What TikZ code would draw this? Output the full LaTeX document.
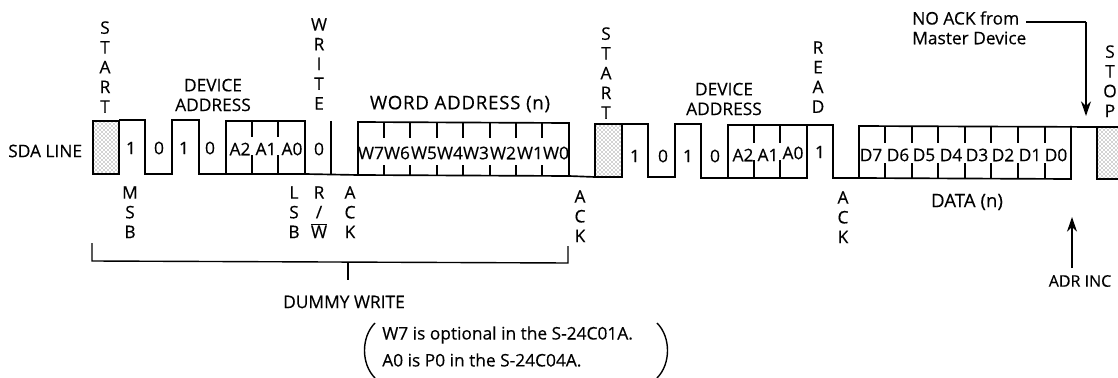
\documentclass[tikz,border=0pt]{standalone}
\usepackage{fontspec}
\setmainfont{Open Sans}[FakeBold=0.35]
\usetikzlibrary{arrows.meta,patterns}
\tikzset{
  lbl/.style={inner sep=0pt,font=\fontsize{13}{14.8}\selectfont,text=black},
  vlabel/.style={lbl,align=center,anchor=north},
  bit/.style={lbl},
  wave/.style={line width=1.25pt,black,line join=miter},
  tick/.style={line width=1.1pt,black},
  shade/.style={pattern=crosshatch dots,pattern color=black!75,draw=black,line width=1.25pt},
  arrowln/.style={line width=1.1pt,black,-{Stealth[length=11pt,width=7.5pt]}},
  brack/.style={line width=1.05pt,black}
}
\begin{document}
\begin{tikzpicture}[x=0.75pt,y=-0.75pt]
\useasboundingbox (0,0) rectangle (1118,378);
% waveform
\draw[shade] (93,121) rectangle (119,174);
\draw[wave] (119,120) -- (145,120) -- (145,174) -- (172,174) -- (172,120) -- (199,120) -- (199,174) -- (226,174)
  -- (226,121) -- (305,121) -- (305,174) -- (358,175) -- (358,122) -- (569,123) -- (569,176) -- (358,175);
\draw[wave] (226,174) -- (305,174);
\draw[tick] (331,121) -- (331,174);
\foreach \x in {252,278} {
  \draw[tick] (\x,121) -- (\x,137);
  \draw[tick] (\x,155) -- (\x,174);
}
\foreach \x in {384,410,437,463,490,516,542} {
  \draw[tick] (\x,123) -- (\x,138);
  \draw[tick] (\x,165) -- (\x,175);
}
\draw[wave] (569,176) -- (595,177);
\draw[shade] (595,124) rectangle (622,177);
\draw[wave] (622,124) -- (648,124) -- (648,177) -- (675,177) -- (675,124) -- (701,124) -- (701,178) -- (728,178)
  -- (728,125) -- (833,125) -- (833,178) -- (859,178) -- (859,126) -- (1097,127);
\draw[wave] (728,178) -- (807,178) -- (807,125);
\draw[wave] (859,178) -- (1071,179) -- (1071,126);
\foreach \x in {754,780} {
  \draw[tick] (\x,125) -- (\x,143);
  \draw[tick] (\x,160) -- (\x,178);
}
\foreach \x in {885,912,938,965,991,1018,1045} {
  \draw[tick] (\x,126) -- (\x,143);
  \draw[tick] (\x,163) -- (\x,178);
}
\fill[pattern=crosshatch dots,pattern color=black!75] (1097,127) rectangle (1118,179);
\draw[wave] (1118,127) -- (1097,127) -- (1097,179) -- (1118,179);
% bit labels
\node[bit] (b1) at (131,148) {1};
\node[bit] (b2) at (159,148) {0};
\node[bit] (b3) at (184,148) {1};
\node[bit] (b4) at (210,148) {0};
\node[bit] (a2) at (240,149) {A2};
\node[bit] (a1) at (266,149) {A1};
\node[bit] (a0) at (292,149) {A0};
\node[bit] (rw) at (319,149) {0};
\foreach \t/\x in {W7/371,W6/397,W5/424,W4/450,W3/476,W2/503,W1/530,W0/556}
  \node[bit] (\t) at (\x,153) {\t};
\node[bit] (c1) at (635,156) {1};
\node[bit] (c2) at (663,156) {0};
\node[bit] (c3) at (688,156) {1};
\node[bit] (c4) at (715,156) {0};
\node[bit] (d2) at (743,155) {A2};
\node[bit] (d1) at (768,155) {A1};
\node[bit] (d0) at (793,153) {A0};
\node[bit] (rd) at (820,152) {1};
\foreach \t/\x in {D7/871,D6/898,D5/924,D4/951,D3/977,D2/1003,D1/1030,D0/1056}
  \node[bit] (\t) at (\x,155) {\t};
% top labels
\node[vlabel] (start1) at (105,21) {S\\T\\A\\R\\T};
\node[vlabel] (write) at (319,18) {W\\R\\I\\T\\E};
\node[vlabel] (start2) at (606,27) {S\\T\\A\\R\\T};
\node[vlabel] (read) at (818,41) {R\\E\\A\\D};
\node[vlabel] (stop) at (1110,45) {S\\T\\O\\P};
\node[lbl,align=center] (dev1) at (213,95) {DEVICE\\ADDRESS};
\node[lbl,align=center] (dev2) at (724,99) {DEVICE\\ADDRESS};
\node[lbl,font=\fontsize{14}{16}\selectfont\addfontfeature{LetterSpace=4}] (word) at (460,104) {WORD ADDRESS (n)};
\node[lbl,anchor=west] (sda) at (8,151) {SDA LINE};
% bottom labels
\node[vlabel] (msb) at (130,186) {M\\S\\B};
\node[vlabel] (lsb) at (294,186) {L\\S\\B};
\node[vlabel] (rwl) at (319,186) {R\\/\\$\overline{\mbox{W}}$};
\node[vlabel] (ack1) at (350,186) {A\\C\\K};
\node[vlabel] (ack2) at (580,190) {A\\C\\K};
\node[vlabel] (ack3) at (843,191) {A\\C\\K};
\node[lbl,font=\fontsize{14}{16}\selectfont] (data) at (967,202) {DATA (n)};
\node[lbl,font=\fontsize{12}{14}\selectfont] (adr) at (1080,281) {ADR INC};
\node[lbl,align=left,anchor=north west] (noack) at (912,11) {NO ACK from\\Master Device};
% arrows
\coordinate (n1) at (1026,22);
\coordinate (n2) at (1086,22);
\coordinate (n3) at (1086,116);
\draw[line width=1.1pt,black] (n1) -- (n2);
\draw[arrowln] (n2) -- (n3);
\coordinate (i1) at (1072,268);
\coordinate (i2) at (1072,217);
\draw[arrowln] (i1) -- (i2);
% bracket
\coordinate (bl) at (92,243);
\coordinate (blb) at (92,261);
\coordinate (brb) at (568,263);
\coordinate (br) at (568,246);
\coordinate (sm) at (348,262);
\coordinate (se) at (348,280);
\draw[brack] (bl) -- (blb) -- (brb) -- (br);
\draw[brack] (sm) -- (se);
\node[lbl] (dummy) at (344,302) {DUMMY WRITE};
% note
\node[lbl,anchor=west] (n7) at (382,335) {W7 is optional in the S-24C01A.};
\node[lbl,anchor=west] (p0) at (382,360) {A0 is P0 in the S-24C04A.};
\draw[line width=1.05pt,black] (375,323) .. controls (361,337) and (361,364) .. (375,378);
\draw[line width=1.05pt,black] (657,323) .. controls (671,337) and (671,364) .. (657,378);
\end{tikzpicture}
\end{document}
